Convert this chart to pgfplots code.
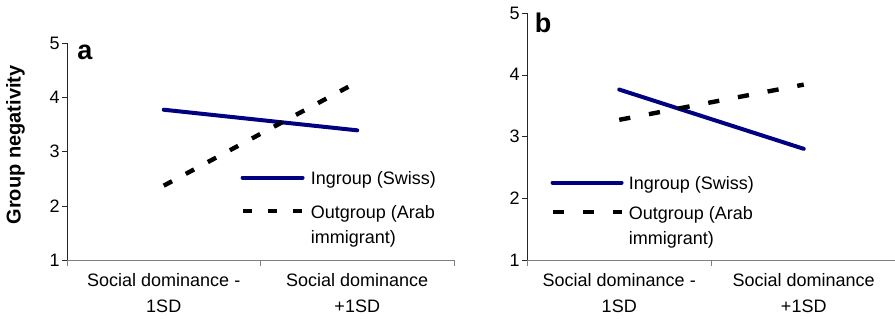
\documentclass[border=0pt]{standalone}
\usepackage{fontspec}
\setmainfont{Liberation Sans}
\usepackage{pgfplots}
\pgfplotsset{compat=1.18}
\definecolor{navy}{RGB}{0,0,128}
\begin{document}
\begin{tikzpicture}
\useasboundingbox (0,0) rectangle (447.5pt,159.5pt);
\pgfplotsset{
  panel/.style={
    scale only axis, xmin=0, xmax=2, ymin=1, ymax=5,
    axis lines=left, axis line style={-},
    x axis line style={draw=gray},
    y axis line style={draw=black!85},
    xtick={0.5,1.5},
    xticklabels={{Social dominance -\\1SD},{Social dominance\\+1SD}},
    xticklabel style={align=center, font=\fontsize{9}{13}\selectfont, inner sep=1pt, yshift=-3pt},
    major x tick style={draw=none},
    minor xtick={0,1,2}, minor tick length=3pt, minor x tick style={draw=gray},
    ytick={1,2,3,4,5}, major tick length=2.5pt, tick align=outside,
    y tick style={draw=black!85},
    yticklabel style={font=\fontsize{9}{13}\selectfont, inner sep=1pt},
    /pgf/number format/assume math mode=true,
    legend style={draw=none, fill=none, font=\fontsize{9}{12.3}\selectfont,
      cells={anchor=north west, inner sep=0pt, align=left}, inner sep=0pt},
    legend cell align=left,
    clip=false,
  }
}
\begin{axis}[panel, at={(33.5pt,29.5pt)}, anchor=south west,
  width=193.5pt, height=108.5pt,
  ylabel={\textbf{Group negativity}},
  ylabel style={at={(axis description cs:-0.108,0.53)}, anchor=south, inner sep=0pt, font=\fontsize{10}{12}\selectfont},
  legend style={at={(axis description cs:0.447,0.427)}, anchor=north west, row sep=5pt},
]
\addplot[navy, line width=2pt, line cap=round,
  legend image code/.code={\path (0pt,0pt) (31pt,-4.4pt); \draw[navy, line width=2pt, overlay] (0pt,1.1pt) -- (30pt,1.1pt);}]
  coordinates {(0.5,3.77) (1.5,3.39)};
\addlegendentry{Ingroup (Swiss)}
\addplot[black, line width=2.2pt, dash pattern=on 4.7pt off 7.8pt,
  legend image code/.code={\path (0pt,0pt) (31pt,-4.4pt); \draw[black, line width=2.2pt, dash pattern=on 4.7pt off 7.8pt, overlay] (0pt,7.6pt) -- (30pt,7.6pt);}]
  coordinates {(0.5,2.37) (1.5,4.28)};
\addlegendentry{Outgroup (Arab\\immigrant)}
\node[anchor=base west, inner sep=0pt, font=\bfseries\fontsize{13.5}{16}\selectfont] at (axis description cs:0.026,0.926) {a};
\end{axis}
\begin{axis}[panel, at={(263.5pt,29.5pt)}, anchor=south west,
  width=184.5pt, height=123.5pt,
  legend style={at={(axis description cs:0.0623,0.355)}, anchor=north west, row sep=3pt},
]
\addplot[navy, line width=2pt, line cap=round,
  legend image code/.code={\path (0pt,0pt) (35pt,-4.4pt); \draw[navy, line width=2pt, overlay] (0pt,1.1pt) -- (34.5pt,1.1pt);}]
  coordinates {(0.5,3.76) (1.5,2.80)};
\addlegendentry{Ingroup (Swiss)}
\addplot[black, line width=2.2pt, dash pattern=on 5.6pt off 9.5pt,
  legend image code/.code={\path (0pt,0pt) (35pt,-4.4pt); \draw[black, line width=2.2pt, dash pattern=on 5.6pt off 9.5pt, overlay] (0pt,7.6pt) -- (34.5pt,7.6pt);}]
  coordinates {(0.5,3.27) (1.5,3.84)};
\addlegendentry{Outgroup (Arab\\immigrant)}
\node[anchor=base west, inner sep=0pt, font=\bfseries\fontsize{13.5}{16}\selectfont] at (axis description cs:0.02,0.919) {b};
\end{axis}
\end{tikzpicture}
\end{document}
